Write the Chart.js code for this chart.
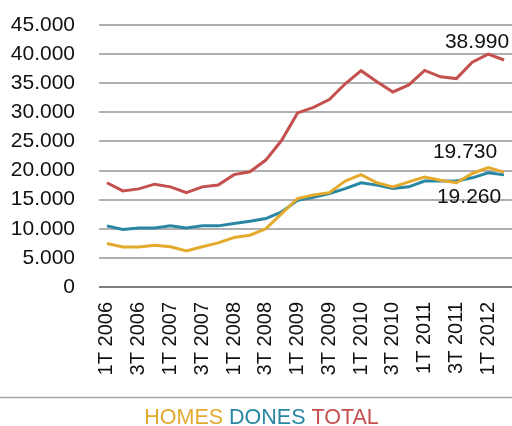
<!DOCTYPE html>
<html>
<head>
<meta charset="utf-8">
<script src="https://cdn.jsdelivr.net/npm/chart.js@4.4.1/dist/chart.umd.min.js"></script>
<style>
  html, body { margin: 0; padding: 0; background: #ffffff; }
  #wrap { width: 512px; height: 426px; position: relative; }
</style>
</head>
<body>
<div id="wrap"><canvas id="c" width="512" height="426"></canvas></div>
<script>
const categories = [
  "1T 2006","2T 2006","3T 2006","4T 2006",
  "1T 2007","2T 2007","3T 2007","4T 2007",
  "1T 2008","2T 2008","3T 2008","4T 2008",
  "1T 2009","2T 2009","3T 2009","4T 2009",
  "1T 2010","2T 2010","3T 2010","4T 2010",
  "1T 2011","2T 2011","3T 2011","4T 2011",
  "1T 2012","2T 2012"
];
const homes = [7460,6880,6880,7170,6900,6200,6900,7570,8500,8900,10000,12600,15200,15800,16200,18200,19300,17900,17200,18050,18900,18350,17900,19500,20500,19730];
const dones = [10500,9870,10150,10150,10500,10150,10500,10500,10900,11300,11750,12900,14900,15400,16050,16900,17900,17500,16900,17200,18200,18200,18200,18750,19600,19260];
const total = [17900,16500,16850,17660,17200,16200,17200,17500,19300,19800,21800,25200,29900,30850,32200,34900,37150,35250,33500,34700,37200,36100,35800,38600,40000,38990];
const seriesNames = ["HOMES","DONES","TOTAL"];
const yTicks = [0,5000,10000,15000,20000,25000,30000,35000,40000,45000];

const COLORS = { HOMES: "#E3AA2E", DONES: "#2A87A3", TOTAL: "#C4504E" };
const FONT = '"Liberation Sans", Arial, sans-serif';

function fmt(v) {
  const s = String(Math.round(v));
  return s.replace(/\B(?=(\d{3})+(?!\d))/g, ".");
}

const extras = {
  id: "extras",
  afterDatasetsDraw(chart) {
    const ctx = chart.ctx;
    const x = chart.scales.x, y = chart.scales.y;
    const last = categories.length - 1;
    const px = x.getPixelForValue(last);
    ctx.save();
    ctx.fillStyle = "#111111";
    ctx.font = "21px " + FONT;
    ctx.textAlign = "center";
    ctx.textBaseline = "alphabetic";
    ctx.fillText(fmt(total[last]), px - 27, y.getPixelForValue(total[last]) - 12);
    ctx.fillText(fmt(homes[last]), px - 39, y.getPixelForValue(homes[last]) - 14);
    ctx.fillText(fmt(dones[last]), px - 35, y.getPixelForValue(dones[last]) + 28);
    ctx.restore();
  },
  afterDraw(chart) {
    const ctx = chart.ctx;
    ctx.save();
    ctx.strokeStyle = "#A6A6A6";
    ctx.lineWidth = 1.5;
    ctx.beginPath();
    ctx.moveTo(0, 397.5);
    ctx.lineTo(512, 397.5);
    ctx.stroke();
    ctx.font = "21.5px " + FONT;
    ctx.textBaseline = "alphabetic";
    ctx.textAlign = "left";
    const gap = ctx.measureText(" ").width;
    const widths = seriesNames.map(n => ctx.measureText(n).width);
    const totalW = widths.reduce((a, b) => a + b, 0) + gap * (seriesNames.length - 1);
    let xx = 261.5 - totalW / 2;
    seriesNames.forEach((n, i) => {
      ctx.fillStyle = COLORS[n];
      ctx.fillText(n, xx, 424);
      xx += widths[i] + gap;
    });
    ctx.restore();
  }
};

const ds = (label, data) => ({
  label, data,
  borderColor: COLORS[label],
  backgroundColor: COLORS[label],
  borderWidth: 3,
  pointRadius: 0,
  tension: 0,
  fill: false
});

new Chart(document.getElementById("c"), {
  type: "line",
  data: {
    labels: categories,
    datasets: [ds("HOMES", homes), ds("DONES", dones), ds("TOTAL", total)]
  },
  options: {
    responsive: false,
    animation: false,
    devicePixelRatio: 1,
    layout: { padding: { top: 25, right: 0, bottom: 0, left: 0 } },
    plugins: {
      legend: { display: false },
      tooltip: { enabled: false }
    },
    scales: {
      x: {
        offset: true,
        grid: { display: false, drawTicks: false },
        border: { display: false },
        ticks: {
          autoSkip: false,
          minRotation: 90,
          maxRotation: 90,
          padding: 15,
          color: "#111111",
          font: { family: FONT, size: 20 },
          callback: function(v, i) { return i % 2 === 0 ? categories[i] : ""; }
        },
        afterFit: function(s) { s.height = 426 - 287; s.paddingLeft = 0; s.paddingRight = 0; s.paddingTop = 0; s.paddingBottom = 0; }
      },
      y: {
        min: 0,
        max: 45000,
        afterBuildTicks: function(s) { s.ticks = yTicks.map(v => ({ value: v })); },
        grid: {
          drawTicks: false,
          color: function(c) { return c.tick && c.tick.value === 0 ? "#808080" : "#B0B0B0"; },
          lineWidth: 2
        },
        border: { display: false },
        ticks: {
          autoSkip: false,
          padding: 24,
          color: "#111111",
          font: { family: FONT, size: 21 },
          callback: function(v) { return fmt(v); }
        },
        afterFit: function(s) { s.width = 99; s.paddingTop = 0; s.paddingBottom = 0; s.paddingLeft = 0; s.paddingRight = 0; }
      }
    }
  },
  plugins: [extras]
});
</script>
</body>
</html>
